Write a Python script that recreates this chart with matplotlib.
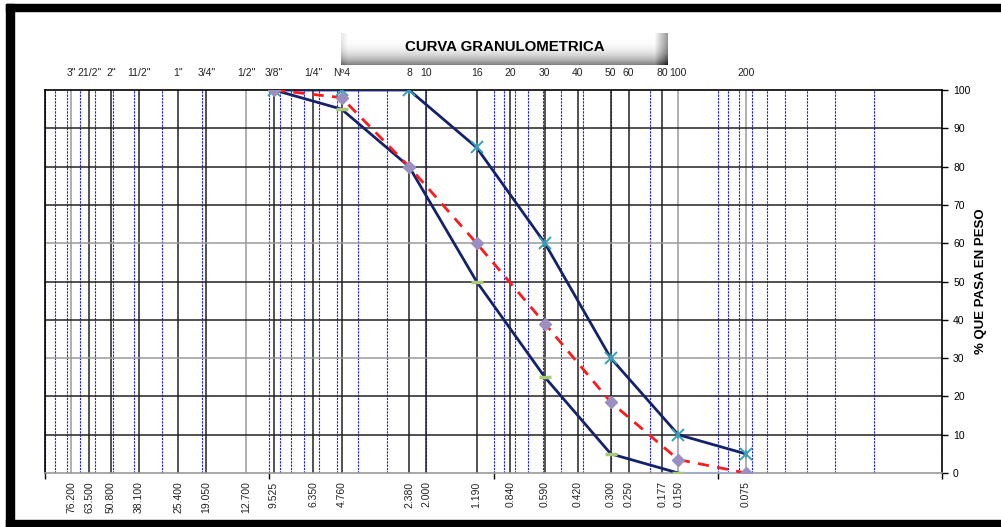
import matplotlib
matplotlib.use("Agg")
import matplotlib.pyplot as plt
import numpy as np
from matplotlib.patches import Rectangle

plt.rcParams['font.family'] = ['Liberation Sans', 'DejaVu Sans']

# tamices
sizes = [76.2, 63.5, 50.8, 38.1, 25.4, 19.05, 12.7, 9.525, 6.35, 4.76, 2.38, 2.0,
         1.19, 0.84, 0.59, 0.42, 0.3, 0.25, 0.177, 0.15, 0.075]
sieve_names = ['3"', '21/2"', '2"', '11/2"', '1"', '3/4"', '1/2"', '3/8"', '1/4"', 'Nº4',
               '8', '10', '16', '20', '30', '40', '50', '60', '80', '100', '200']
size_labels = ['76.200', '63.500', '50.800', '38.100', '25.400', '19.050', '12.700',
               '9.525', '6.350', '4.760', '2.380', '2.000', '1.190', '0.840', '0.590',
               '0.420', '0.300', '0.250', '0.177', '0.150', '0.075']
gray_sieves = [76.2, 12.7, 0.15, 0.075]

# curvas
curve_sizes = [9.525, 4.76, 2.38, 1.19, 0.59, 0.3, 0.15, 0.075]
upper = [100, 100, 100, 85, 60, 30, 10, 5]
lower = [100, 95, 80, 50, 25, 5, 0]
sample = [100, 98, 80, 60, 39, 18.5, 3.5, 0]

W, H = 1001, 527
fig = plt.figure(figsize=(W / 100, H / 100), dpi=100)
ax = fig.add_axes([45 / W, 1 - 473 / H, (942 - 45) / W, (473 - 90) / H])

ax.set_xscale('log')
ax.set_xlim(100, 0.01)
ax.set_ylim(0, 100)

# rejilla azul (log)
for dec in [0.01, 0.1, 1, 10]:
    for k in range(1, 10):
        ax.axvline(k * dec, color='#1a1aff', lw=0.8, ls=(0, (2, 1)), zorder=1)
ax.axvline(100, color='#1a1aff', lw=0.8, ls=(0, (2, 1)), zorder=1)

# tamices
for s in sizes:
    c = '#9a9a9a' if s in gray_sieves else '#222222'
    ax.axvline(s, color=c, lw=1.1, zorder=2)

for yv in range(10, 100, 10):
    c = '#9a9a9a' if yv in (30, 60) else '#222222'
    ax.axhline(yv, color=c, lw=1.1, zorder=2)

# curvas
ax.plot(curve_sizes[:len(lower)], lower, color='#14226a', lw=2, zorder=4)
ax.plot([0.15, 0.075], [0, 0], color='#9ab0d8', lw=1.5, zorder=3)
ax.plot(curve_sizes, upper, color='#14226a', lw=2, zorder=4)
ax.plot(curve_sizes, sample, color='#ff1a1a', lw=2, ls=(0, (4, 3)), zorder=5)

ax.plot(curve_sizes[:len(lower)], lower, ls='none', marker='_', ms=9, mew=2.5,
        color='#a8c87a', zorder=6)
ax.plot(curve_sizes, upper, ls='none', marker='x', ms=8, mew=1.4,
        color='#3a9fb5', zorder=6)
ax.plot(curve_sizes, upper, ls='none', marker='|', ms=6, mew=1.2,
        color='#3a9fb5', zorder=6)
ax.plot(curve_sizes, sample, ls='none', marker='D', ms=6.5,
        color='#9b8fc2', zorder=7)

# ejes
for sp in ['left', 'right', 'top']:
    ax.spines[sp].set_color('black')
    ax.spines[sp].set_linewidth(1.2)
ax.spines['bottom'].set_color('#9a9a9a')
ax.spines['bottom'].set_linewidth(1.2)

ax.xaxis.set_major_locator(matplotlib.ticker.FixedLocator([100, 10, 1, 0.1, 0.01]))
ax.xaxis.set_minor_locator(matplotlib.ticker.NullLocator())
ax.set_xticklabels([])
ax.tick_params(axis='x', direction='out', length=4, width=1, color='black')

ax.yaxis.tick_right()
ax.set_yticks(range(0, 101, 10))
ax.tick_params(axis='y', direction='out', length=4, width=1, labelsize=7.5, pad=4)
ax.yaxis.set_label_position('right')
ax.set_ylabel('% QUE PASA EN PESO', fontsize=9.5, fontweight='bold', labelpad=3)

trans = ax.get_xaxis_transform()
for s, name, lab in zip(sizes, sieve_names, size_labels):
    ax.text(s, 1.044, name, transform=trans, ha='center', va='center',
            fontsize=7.5, color='#222222')
    ax.text(s, -0.022, lab, transform=trans, ha='center', va='top',
            rotation=90, fontsize=7.5, color='#222222')

# titulo con degradado
tax = fig.add_axes([341 / W, 1 - 65 / H, (668 - 341) / W, 32 / H])
yy = np.linspace(0, 1, 60)[:, None]
xx = np.linspace(0, 1, 300)[None, :]
grad = 1 - 0.5 * yy ** 3 - 0.4 * np.clip((xx - 0.96) / 0.04, 0, 1) - 0.1 * np.clip((0.02 - xx) / 0.02, 0, 1)
tax.imshow(grad, cmap='gray', vmin=0, vmax=1, aspect='auto', extent=[0, 1, 1, 0])
tax.axis('off')
fig.text((402 + 608) / 2 / W, 1 - 47 / H, 'CURVA GRANULOMETRICA', ha='center',
         va='center', fontsize=10.8, fontweight='bold')

# marco
fig.patches.append(Rectangle((6 / W, 1 - 11 / H), 1, 7 / H, transform=fig.transFigure,
                             color='black', zorder=10))
fig.patches.append(Rectangle((6 / W, 0), 8 / W, 1 - 4 / H, transform=fig.transFigure,
                             color='black', zorder=10))
fig.patches.append(Rectangle((6 / W, 0), 1, 7 / H, transform=fig.transFigure,
                             color='black', zorder=10))

fig.savefig('out.png', dpi=100)
